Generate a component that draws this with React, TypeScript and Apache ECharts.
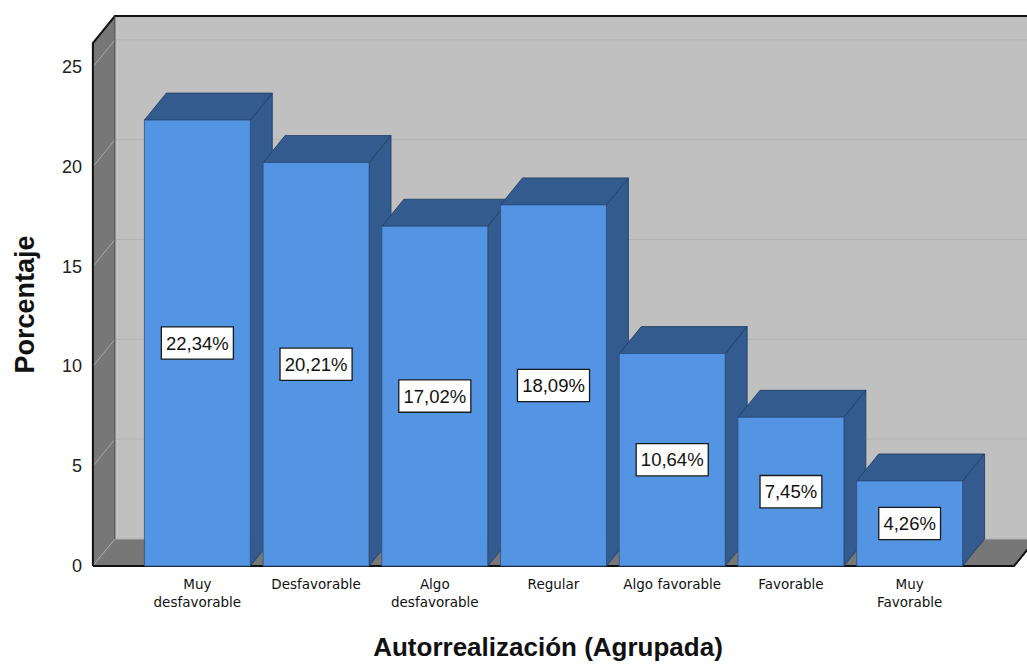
import React, { useEffect, useRef } from "react";
import * as echarts from "echarts";

// ---- data ----
const categories = [
  "Muy\ndesfavorable",
  "Desfavorable",
  "Algo\ndesfavorable",
  "Regular",
  "Algo favorable",
  "Favorable",
  "Muy\nFavorable",
];
const percentages = [22.34, 20.21, 17.02, 18.09, 10.64, 7.45, 4.26];
const yTicks = [0, 5, 10, 15, 20, 25];
const yMax = 26.2;
const xTitle = "Autorrealización (Agrupada)";
const yTitle = "Porcentaje";

// ---- style constants ----
const DX = 22;
const DY = 27;
const SIDE_EXT = 0.38;
const BAR_FRAC = 0.892;
const FRONT = "#5394e3";
const DARK = "#335b8d";
const EDGE = "#1f3b63";
const BACK_WALL = "#c0c0c0";
const SIDE_WALL = "#777777";
const FLOOR = "#777777";

export default function App() {
  const ref = useRef<HTMLDivElement>(null);

  useEffect(() => {
    const chart = echarts.init(ref.current!, null, { renderer: "svg" });

    const bounds = (api: any) => {
      const band = api.size([1, 0])[0];
      const first = api.coord([0, 0]);
      const last = api.coord([categories.length - 1, 0]);
      const x0 = first[0] - band / 2 - band * SIDE_EXT;
      const x1 = last[0] + band / 2 + band * SIDE_EXT;
      const y0 = first[1];
      const yTop = api.coord([0, yMax])[1];
      return { x0, x1, y0, yTop, band };
    };

    const option: any = {
      animation: false,
      grid: { left: 138, right: 58, top: 43, bottom: 98, containLabel: false },
      xAxis: {
        type: "category",
        data: categories,
        axisLine: { show: false },
        axisTick: { show: false },
        axisLabel: {
          fontFamily: "DejaVu Sans",
          fontSize: 13.5,
          color: "#111",
          lineHeight: 18,
          margin: 9,
          interval: 0,
        },
      },
      yAxis: {
        type: "value",
        min: 0,
        max: yMax,
        interval: 5,
        offset: 45,
        axisLine: { show: false },
        axisTick: { show: false },
        splitLine: { show: false },
        axisLabel: {
          showMaxLabel: false,
          fontFamily: "Liberation Sans",
          fontSize: 18,
          color: "#222",
          margin: 11,
        },
        name: yTitle,
        nameLocation: "middle",
        nameRotate: 90,
        nameGap: 55,
        nameTextStyle: {
          fontFamily: "Liberation Sans",
          fontSize: 27,
          fontWeight: "bold",
          color: "#111",
        },
      },
      graphic: [
        {
          type: "text",
          x: 548,
          y: 647,
          style: {
            text: xTitle,
            align: "center",
            verticalAlign: "middle",
            fontFamily: "Liberation Sans",
            fontSize: 26,
            fontWeight: "bold",
            fill: "#111",
          },
        },
      ],
      series: [
        {
          type: "custom",
          name: "walls",
          clip: false,
          silent: true,
          data: [[0, yMax]],
          renderItem: (params: any, api: any) => {
            const { x0, x1, y0, yTop } = bounds(api);
            return {
              type: "group",
              children: [
                {
                  type: "polygon",
                  shape: {
                    points: [
                      [x0 + DX, yTop - DY],
                      [x1 + DX, yTop - DY],
                      [x1 + DX, y0 - DY],
                      [x0 + DX, y0 - DY],
                    ],
                  },
                  style: { fill: BACK_WALL },
                },
                {
                  type: "polygon",
                  shape: {
                    points: [
                      [x0, y0],
                      [x0, yTop],
                      [x0 + DX, yTop - DY],
                      [x0 + DX, y0 - DY],
                    ],
                  },
                  style: { fill: SIDE_WALL },
                },
                {
                  type: "polygon",
                  shape: {
                    points: [
                      [x0, y0],
                      [x1, y0],
                      [x1 + DX, y0 - DY],
                      [x0 + DX, y0 - DY],
                    ],
                  },
                  style: { fill: FLOOR },
                },
              ],
            };
          },
        },
        {
          type: "custom",
          name: "gridlines",
          clip: false,
          silent: true,
          data: yTicks.map((v) => [0, v]),
          renderItem: (params: any, api: any) => {
            const { x0, x1 } = bounds(api);
            const y = api.coord([0, api.value(1)])[1];
            return {
              type: "group",
              children: [
                {
                  type: "line",
                  shape: { x1: x0, y1: y, x2: x0 + DX, y2: y - DY },
                  style: { stroke: "#a9a9a9", lineWidth: 1 },
                },
                {
                  type: "line",
                  shape: { x1: x0 + DX, y1: y - DY, x2: x1 + DX, y2: y - DY },
                  style: { stroke: "#b2b2b2", lineWidth: 1 },
                },
              ],
            };
          },
        },
        {
          type: "custom",
          name: "edges",
          clip: false,
          silent: true,
          data: [[0, yMax]],
          renderItem: (params: any, api: any) => {
            const { x0, x1, y0, yTop } = bounds(api);
            return {
              type: "group",
              children: [
                {
                  type: "polyline",
                  shape: {
                    points: [
                      [x0, y0],
                      [x0, yTop],
                      [x0 + DX, yTop - DY],
                      [x1 + DX + 40, yTop - DY],
                    ],
                  },
                  style: { stroke: "#111", lineWidth: 2, fill: null },
                },
                {
                  type: "line",
                  shape: { x1: x0 + DX, y1: yTop - DY, x2: x0 + DX, y2: y0 - DY },
                  style: { stroke: "#444", lineWidth: 1 },
                },
                {
                  type: "polyline",
                  shape: {
                    points: [
                      [x0, y0],
                      [x1, y0],
                      [x1 + DX, y0 - DY],
                    ],
                  },
                  style: { stroke: "#111", lineWidth: 2, fill: null },
                },
              ],
            };
          },
        },
        {
          type: "custom",
          name: "Porcentaje",
          clip: false,
          data: percentages.map((v, i) => [i, v]),
          renderItem: (params: any, api: any) => {
            const i = api.value(0);
            const v = api.value(1);
            const top = api.coord([i, v]);
            const base = api.coord([i, 0]);
            const cx = top[0];
            const yv = top[1];
            const y0 = base[1];
            const w = api.size([1, 0])[0] * BAR_FRAC;
            const xl = cx - w / 2;
            const xr = cx + w / 2;
            const mid = api.coord([i, v / 2])[1];
            return {
              type: "group",
              children: [
                {
                  type: "polygon",
                  shape: {
                    points: [
                      [xr, yv],
                      [xr, y0],
                      [xr + DX, y0 - DY],
                      [xr + DX, yv - DY],
                    ],
                  },
                  style: { fill: DARK, stroke: EDGE, lineWidth: 0.8 },
                },
                {
                  type: "polygon",
                  shape: {
                    points: [
                      [xl, yv],
                      [xr, yv],
                      [xr + DX, yv - DY],
                      [xl + DX, yv - DY],
                    ],
                  },
                  style: { fill: DARK, stroke: EDGE, lineWidth: 0.8 },
                },
                {
                  type: "rect",
                  shape: { x: xl, y: yv, width: w, height: y0 - yv },
                  style: { fill: FRONT, stroke: "#2d5283", lineWidth: 0.8 },
                },
                {
                  type: "text",
                  x: cx,
                  y: mid,
                  style: {
                    text: v.toFixed(2).replace(".", ",") + "%",
                    align: "center",
                    verticalAlign: "middle",
                    fontFamily: "Liberation Sans",
                    fontSize: 18.5,
                    fill: "#111",
                    backgroundColor: "#ffffff",
                    borderColor: "#1a1a1a",
                    borderWidth: 1.3,
                    padding: [7, 4, 5, 4],
                  },
                },
              ],
            };
          },
        },
      ],
    };

    chart.setOption(option);
    return () => chart.dispose();
  }, []);

  return (
    <div
      ref={ref}
      style={{ position: "fixed", left: 0, top: 0, width: 1027, height: 664, background: "#fff" }}
    />
  );
}
